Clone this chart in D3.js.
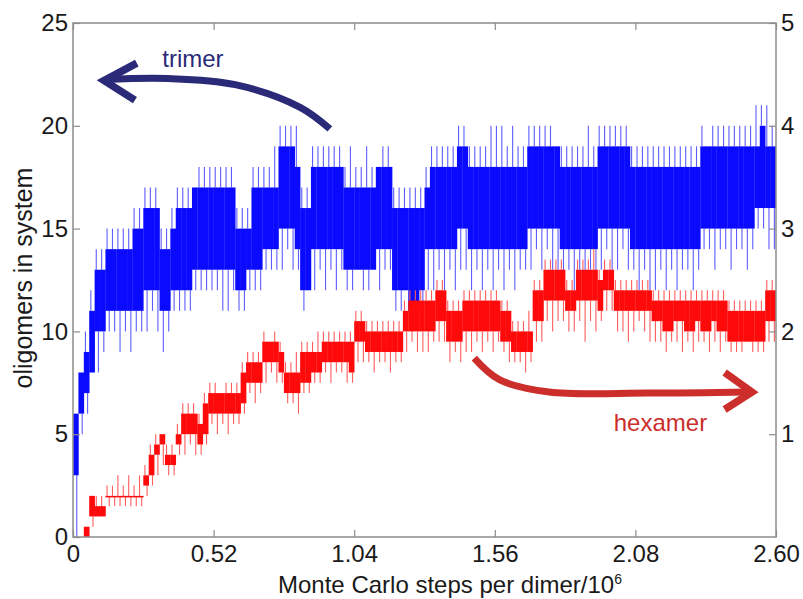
<!DOCTYPE html>
<html lang="en">
  <head>
    <meta charset="UTF-8" />
    <title>oligomers</title>
    <script src="https://d3js.org/d3.v7.min.js"></script>
    <style>
      body { margin: 0; background: #fff; }
      text { font-family: "Liberation Sans", Arial, sans-serif; }
    </style>
  </head>

  <body>
    <svg id="chart" width="803" height="599"></svg>
    <script>
      // x ticks (Monte Carlo steps per dimer / 10^6)
      const xTicks = [0, 0.52, 1.04, 1.56, 2.08, 2.6];
      const xTickLabels = ["0", "0.52", "1.04", "1.56", "2.08", "2.60"];
      const leftTicks = [0, 5, 10, 15, 20, 25];
      const rightTicks = [1, 2, 3, 4, 5];

      // samples every 0.02 x-units; band = dense part, min/max = spikes
      const stepT = 0.02;

      // trimer, left axis
      const trimerLo = [
        3,6,7,8,10,10,11,11,11,11,
        11,11,11,12,12,12,11,11,12,12,
        12,12,13,13,13,13,13,13,13,13,
        12,12,13,13,13,14,14,14,15,15,
        15,14,12,12,14,14,14,14,14,14,
        13,13,13,13,13,13,14,14,14,12,
        12,12,11,11,12,14,14,14,14,14,
        14,15,15,14,14,14,14,14,14,14,
        14,14,14,14,15,15,15,15,15,15,
        14,14,14,14,14,14,14,15,15,15,
        15,15,15,14,14,14,14,14,14,14,
        14,14,14,14,14,14,15,15,15,15,
        15,15,15,15,15,15,16,16,16,16
      ];
      const trimerHi = [
        6,8,9,11,13,13,14,14,14,14,
        14,15,15,16,16,16,14,14,15,16,
        16,16,17,17,17,17,17,17,17,17,
        15,15,15,17,17,17,17,17,19,19,
        19,18,16,16,18,18,18,18,18,18,
        17,17,17,17,17,17,18,18,18,16,
        16,16,16,16,16,17,18,18,18,18,
        18,19,19,18,18,18,18,18,18,18,
        18,18,18,18,19,19,19,19,19,19,
        18,18,18,18,18,18,18,19,19,19,
        19,19,19,18,18,18,18,18,18,18,
        18,18,18,18,18,18,19,19,19,19,
        19,19,19,19,19,19,19,20,19,19
      ];
      const trimerMin = [
        0,5,6,8,8,9,10,10,9,10,
        9,10,10,10,11,10,9,10,11,11,
        11,11,12,12,12,12,12,11,11,12,
        11,11,12,12,12,13,13,13,13,14,
        13,13,11,12,12,13,12,13,12,13,
        12,12,13,12,12,13,12,13,13,11,
        11,12,10,11,11,12,12,13,12,13,
        12,13,13,12,13,12,13,12,13,12,
        13,12,13,13,13,14,13,14,13,13,
        12,13,12,13,12,13,12,13,14,13,
        13,14,13,13,12,13,12,12,13,12,
        13,12,13,13,12,13,14,14,13,14,
        14,13,14,14,13,14,15,15,14,14
      ];
      const trimerMax = [
        6,8,10,12,14,14,15,15,15,15,
        15,16,16,17,17,17,15,15,16,17,
        17,17,17,18,18,18,18,18,18,18,
        16,16,16,18,18,18,18,19,20,20,
        20,20,17,17,19,19,19,19,19,19,
        18,19,18,18,19,18,18,19,19,17,
        17,17,17,17,17,18,19,19,19,19,
        19,20,20,19,19,19,19,20,20,20,
        19,20,19,19,20,20,20,20,20,19,
        19,19,19,19,19,20,19,20,20,20,
        20,20,20,19,19,19,19,19,19,19,
        19,19,19,19,19,19,20,19,20,20,
        20,20,20,20,20,20,21,21,21,20
      ];

      // hexamer, right axis
      const hexamerLo = [
        0,0,0,0.2,0.2,0.2,0.4,0.4,0.4,0.4,
        0.4,0.4,0.4,0.5,0.6,0.8,0.9,0.7,0.7,0.9,
        1.0,1.0,1.0,0.9,1.0,1.2,1.2,1.2,1.2,1.2,
        1.2,1.3,1.5,1.5,1.5,1.7,1.7,1.7,1.6,1.4,
        1.4,1.4,1.5,1.5,1.6,1.6,1.7,1.7,1.7,1.7,
        1.7,1.6,1.9,1.9,1.8,1.8,1.8,1.8,1.8,1.8,
        1.8,2.0,2.0,2.0,2.0,2.0,2.0,2.1,2.1,1.9,
        1.9,1.9,2.0,2.0,2.0,2.0,2.0,2.0,2.0,1.9,
        1.9,1.8,1.8,1.8,1.8,2.1,2.1,2.3,2.3,2.3,
        2.3,2.2,2.2,2.3,2.3,2.3,2.3,2.2,2.4,2.4,
        2.2,2.2,2.2,2.2,2.2,2.2,2.2,2.1,2.1,2.0,
        2.0,2.1,2.1,2.0,2.0,2.1,2.0,2.0,2.1,2.0,
        2.0,1.9,1.9,1.9,1.9,1.9,1.9,1.9,2.1,2.1
      ];
      const hexamerHi = [
        0,0,0.1,0.4,0.3,0.3,0.4,0.4,0.4,0.4,
        0.4,0.4,0.4,0.6,0.8,0.9,1.0,0.8,0.8,1.0,
        1.2,1.2,1.2,1.1,1.3,1.4,1.4,1.4,1.4,1.4,
        1.4,1.6,1.7,1.7,1.7,1.9,1.9,1.9,1.8,1.6,
        1.6,1.6,1.8,1.8,1.8,1.8,1.9,1.9,1.9,1.9,
        1.9,1.9,2.1,2.1,2.0,2.0,2.0,2.0,2.0,2.0,
        2.0,2.2,2.3,2.3,2.3,2.3,2.3,2.4,2.4,2.2,
        2.2,2.2,2.3,2.3,2.3,2.3,2.3,2.3,2.3,2.2,
        2.2,2.0,2.0,2.0,2.0,2.4,2.4,2.6,2.6,2.6,
        2.6,2.4,2.4,2.6,2.6,2.6,2.6,2.5,2.6,2.6,
        2.4,2.4,2.4,2.4,2.4,2.4,2.4,2.3,2.3,2.3,
        2.3,2.3,2.3,2.3,2.3,2.3,2.3,2.3,2.3,2.3,
        2.3,2.2,2.2,2.2,2.2,2.2,2.2,2.2,2.4,2.4
      ];
      const hexamerMin = [
        0,0,0,0.1,0.2,0.2,0.3,0.3,0.3,0.3,
        0.3,0.3,0.3,0.4,0.5,0.6,0.7,0.6,0.6,0.8,
        0.8,0.9,0.8,0.8,0.9,1.1,1.0,1.1,1.0,1.1,
        1.1,1.2,1.4,1.3,1.4,1.5,1.6,1.5,1.5,1.3,
        1.3,1.2,1.4,1.4,1.5,1.5,1.6,1.5,1.6,1.6,
        1.5,1.5,1.7,1.7,1.7,1.6,1.7,1.7,1.6,1.7,
        1.7,1.8,1.9,1.8,1.8,1.8,1.9,1.9,1.9,1.7,
        1.8,1.7,1.8,1.8,1.9,1.8,1.9,1.8,1.9,1.8,
        1.7,1.7,1.7,1.6,1.7,1.9,1.9,2.1,2.0,2.1,
        2.1,2.0,2.0,2.1,1.9,2.1,2.0,2.1,2.2,2.2,
        2.0,2.0,1.9,2.0,2.1,2.0,1.9,1.9,1.9,1.8,
        1.9,1.9,1.8,1.9,1.8,1.9,1.9,1.8,1.9,1.8,
        1.9,1.8,1.8,1.8,1.9,1.8,1.8,1.8,1.9,1.9
      ];
      const hexamerMax = [
        0,0,0.1,0.4,0.4,0.4,0.5,0.5,0.6,0.5,
        0.6,0.5,0.6,0.7,0.9,1.0,1.0,0.9,0.9,1.1,
        1.3,1.3,1.3,1.2,1.4,1.5,1.5,1.4,1.5,1.5,
        1.5,1.7,1.8,1.8,1.8,2.0,1.9,2.0,1.9,1.7,
        1.7,1.8,1.9,1.9,1.9,2.0,2.0,2.0,2.0,2.0,
        2.0,2.0,2.2,2.2,2.1,2.1,2.1,2.1,2.1,2.1,
        2.1,2.3,2.4,2.4,2.4,2.4,2.4,2.5,2.5,2.3,
        2.3,2.3,2.4,2.4,2.4,2.4,2.4,2.4,2.4,2.3,
        2.3,2.1,2.1,2.1,2.2,2.5,2.5,2.7,2.7,2.7,
        2.7,2.5,2.5,2.7,2.7,2.7,2.8,2.6,2.7,2.7,
        2.5,2.5,2.5,2.5,2.5,2.5,2.5,2.4,2.4,2.4,
        2.4,2.4,2.4,2.4,2.4,2.4,2.4,2.4,2.4,2.4,
        2.4,2.3,2.3,2.3,2.3,2.3,2.3,2.3,2.5,2.5
      ];

      const svg = d3.select("#chart");
      const margin = { top: 23, right: 27, bottom: 62, left: 73 };
      const width = +svg.attr("width") - margin.left - margin.right;
      const height = +svg.attr("height") - margin.top - margin.bottom;
      const g = svg
        .append("g")
        .attr("transform", "translate(" + margin.left + "," + margin.top + ")");

      const x = d3.scaleLinear().domain([0, 2.6]).range([0, width]);
      const yL = d3.scaleLinear().domain([0, 25]).range([height, 0]);
      const yR = d3.scaleLinear().domain([0, 5]).range([height, 0]);

      g.append("clipPath")
        .attr("id", "clip")
        .append("rect")
        .attr("width", width)
        .attr("height", height);

      const plot = g.append("g").attr("clip-path", "url(#clip)");

      function drawSeries(lo, hi, mn, mx, y, color, spikeColor) {
        const rows = lo.map((d, i) => ({
          t: i * stepT, lo: d, hi: hi[i], min: mn[i], max: mx[i]
        }));
        const s = plot.append("g");
        s.selectAll("line.up")
          .data(rows)
          .join("line")
          .attr("x1", (d) => x(d.t + stepT * 0.3))
          .attr("x2", (d) => x(d.t + stepT * 0.3))
          .attr("y1", (d) => y(d.hi))
          .attr("y2", (d) => y(d.max))
          .attr("stroke", spikeColor)
          .attr("stroke-width", 1.1);
        s.selectAll("line.down")
          .data(rows)
          .join("line")
          .attr("x1", (d) => x(d.t + stepT * 0.7))
          .attr("x2", (d) => x(d.t + stepT * 0.7))
          .attr("y1", (d) => y(d.lo))
          .attr("y2", (d) => y(d.min))
          .attr("stroke", spikeColor)
          .attr("stroke-width", 1.1);
        s.selectAll("rect")
          .data(rows)
          .join("rect")
          .attr("x", (d) => x(d.t))
          .attr("width", x(stepT) - x(0) + 0.3)
          .attr("y", (d) => y(d.hi))
          .attr("height", (d) => Math.max(1.5, y(d.lo) - y(d.hi)))
          .attr("fill", color);
      }

      drawSeries(trimerLo, trimerHi, trimerMin, trimerMax, yL, "#0a0aff", "#5c5cff");
      drawSeries(hexamerLo, hexamerHi, hexamerMin, hexamerMax, yR, "#ff0a0a", "#ff5c5c");

      // axes, ticks pointing inward
      const axisColor = "#8c8c8c";
      const fontSize = 24;

      g.append("g")
        .attr("transform", "translate(0," + height + ")")
        .call(d3.axisBottom(x).tickValues(xTicks).tickSize(-7).tickPadding(8)
          .tickFormat((d, i) => xTickLabels[i]));
      g.append("g")
        .call(d3.axisTop(x).tickValues(xTicks).tickSize(-7).tickFormat(""));
      g.append("g")
        .call(d3.axisLeft(yL).tickValues(leftTicks).tickSize(-7).tickPadding(5)
          .tickFormat(d3.format("d")));
      g.append("g")
        .attr("transform", "translate(" + width + ",0)")
        .call(d3.axisRight(yR).tickValues(rightTicks).tickSize(-7).tickPadding(5)
          .tickFormat(d3.format("d")));

      g.selectAll(".domain").remove();
      g.selectAll(".tick line").attr("stroke", axisColor).attr("stroke-width", 1.2);
      g.selectAll(".tick text")
        .attr("fill", "#1a1a1a")
        .style("font-size", fontSize + "px")
        .style("font-family", "'Liberation Sans', Arial, sans-serif");

      g.append("rect")
        .attr("width", width)
        .attr("height", height)
        .attr("fill", "none")
        .attr("stroke", axisColor)
        .attr("stroke-width", 1.5);

      // axis titles
      const xTitle = svg.append("text")
        .attr("x", 450)
        .attr("y", 593)
        .attr("text-anchor", "middle")
        .attr("fill", "#1a1a1a")
        .style("font-size", "24px");
      xTitle.append("tspan").text("Monte Carlo steps per dimer/10");
      xTitle.append("tspan").attr("dy", -9).style("font-size", "14px").text("6");

      svg.append("text")
        .attr("transform", "translate(32," + 278 + ") rotate(-90)")
        .attr("text-anchor", "middle")
        .attr("fill", "#1a1a1a")
        .style("font-size", "25px")
        .text("oligomers in system");

      // annotation arrows (data coordinates)
      const trimerColor = "#2a2a78";
      const hexColor = "#cc2e2b";
      const line = d3.line().curve(d3.curveCatmullRom);

      const trimerPts = [[0.95, 19.85], [0.84, 20.9], [0.6, 22.0], [0.35, 22.3], [0.12, 22.25]];
      g.append("path")
        .attr("d", line(trimerPts.map((p) => [x(p[0]), yL(p[1])])))
        .attr("fill", "none").attr("stroke", trimerColor).attr("stroke-width", 7);
      g.append("path")
        .attr("d", d3.line()([[x(0.236), yL(23.05)], [x(0.115), yL(22.2)], [x(0.229), yL(21.25)]]))
        .attr("fill", "none").attr("stroke", trimerColor).attr("stroke-width", 7.5)
        .attr("stroke-linejoin", "miter");
      g.append("text")
        .attr("x", x(0.33)).attr("y", yL(22.86))
        .attr("fill", trimerColor).style("font-size", "24px")
        .text("trimer");

      const hexPts = [[1.484, 1.74], [1.577, 1.53], [1.761, 1.41], [2.13, 1.40], [2.5, 1.41]];
      g.append("path")
        .attr("d", line(hexPts.map((p) => [x(p[0]), yR(p[1])])))
        .attr("fill", "none").attr("stroke", hexColor).attr("stroke-width", 7);
      g.append("path")
        .attr("d", d3.line()([[x(2.41), yR(1.6)], [x(2.511), yR(1.41)], [x(2.41), yR(1.24)]]))
        .attr("fill", "none").attr("stroke", hexColor).attr("stroke-width", 7.5)
        .attr("stroke-linejoin", "miter");
      g.append("text")
        .attr("x", x(2.0)).attr("y", yR(1.03))
        .attr("fill", hexColor).style("font-size", "24px")
        .text("hexamer");
    </script>
  </body>
</html>
